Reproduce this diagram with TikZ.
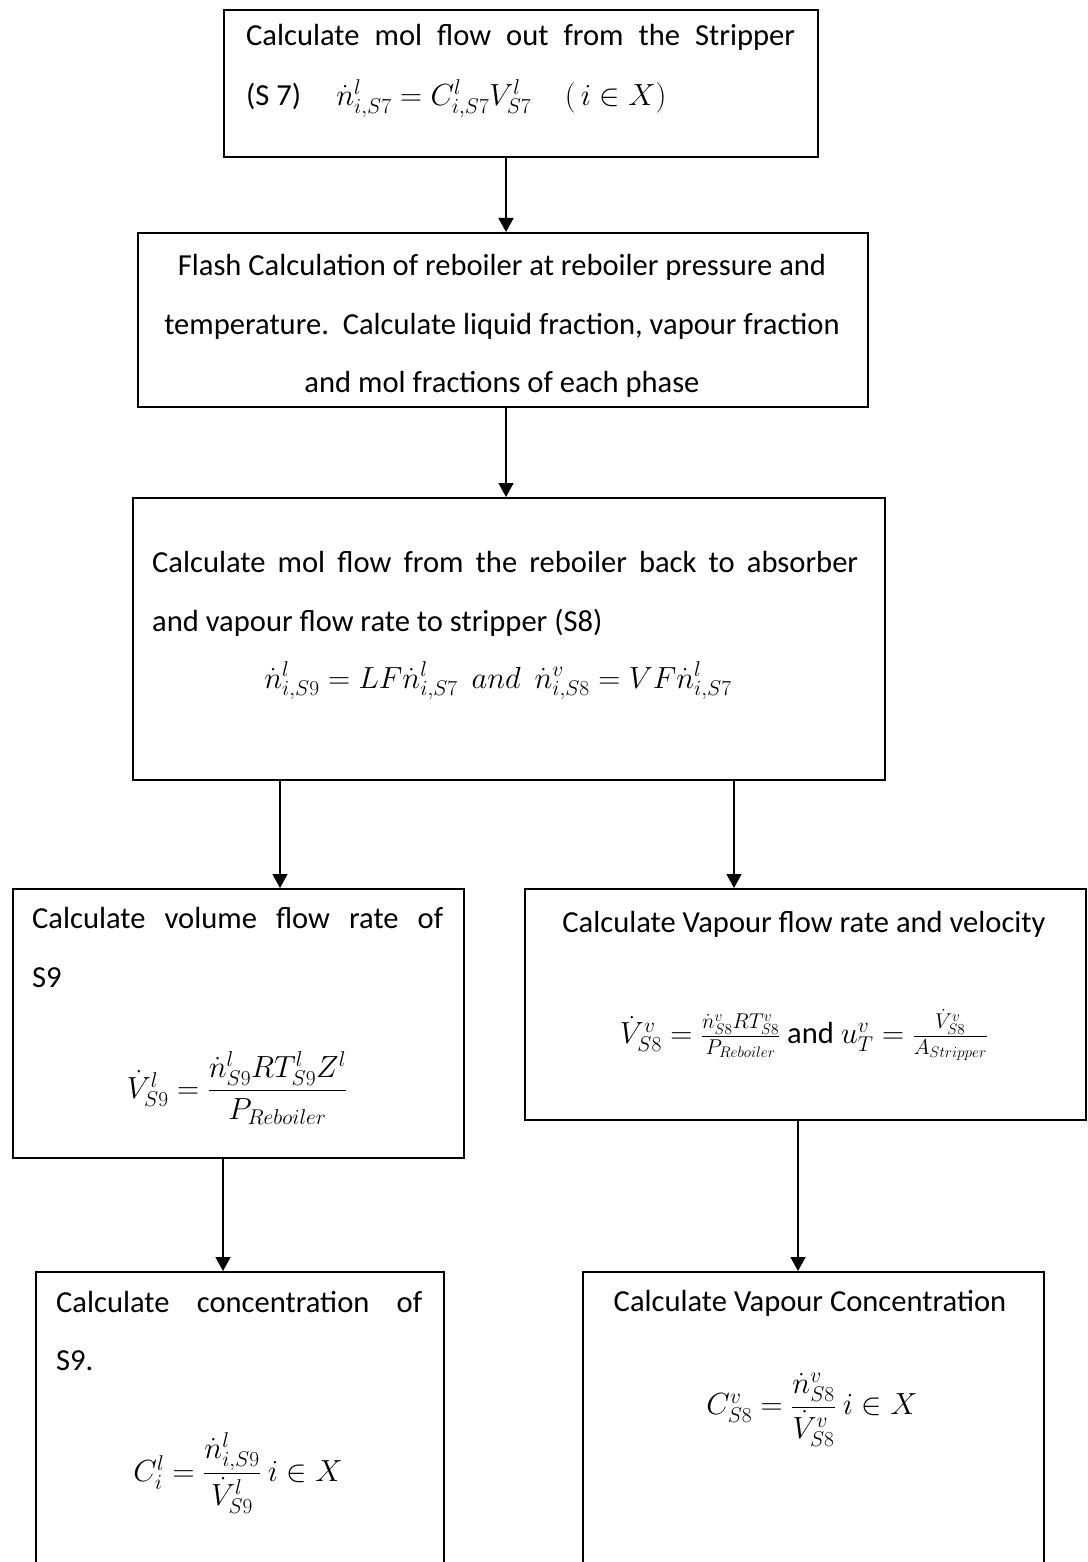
\RequirePackage{fix-cm}
\documentclass[tikz,border=0pt]{standalone}
\usepackage{amsmath}
\usepackage{fontspec}
\setmainfont{Carlito}
\usetikzlibrary{arrows.meta}
\begin{document}
\fontsize{30.56}{36}\selectfont
\begin{tikzpicture}[x=1pt,y=-1pt,
  box/.style={draw,line width=1.8pt,inner sep=0pt,anchor=north west},
  arr/.style={line width=1.6pt,-{Triangle[length=14pt,width=15pt]}},
  lt/.style={inner sep=0pt,anchor=base west},
  ct/.style={inner sep=0pt,anchor=base}]
\useasboundingbox (0,0) rectangle (1087,1562);
\clip (0,0) rectangle (1087,1562);
% boxes
\node[box,minimum width=594pt,minimum height=147pt] (b1) at (223,9) {};
\node[box,minimum width=730pt,minimum height=174pt] (b2) at (137,232) {};
\node[box,minimum width=752pt,minimum height=282pt] (b3) at (132,497) {};
\node[box,minimum width=451pt,minimum height=269pt] (b4) at (12,888) {};
\node[box,minimum width=561pt,minimum height=231pt] (b5) at (524,888) {};
\node[box,minimum width=408pt,minimum height=310pt] (b6) at (35,1271) {};
\node[box,minimum width=461pt,minimum height=310pt] (b7) at (582,1271) {};
% connectors
\coordinate (x1) at (506,0);
\coordinate (x3) at (280,0);
\coordinate (x4) at (734,0);
\coordinate (x5) at (223,0);
\coordinate (x6) at (798,0);
\draw[arr] (x1 |- b1.south) -- (x1 |- b2.north);
\draw[arr] (x1 |- b2.south) -- (x1 |- b3.north);
\draw[arr] (x3 |- b3.south) -- (x3 |- b4.north);
\draw[arr] (x4 |- b3.south) -- (x4 |- b5.north);
\draw[arr] (x5 |- b4.south) -- (x5 |- b6.north);
\draw[arr] (x6 |- b5.south) -- (x6 |- b7.north);
% box 1
\node[lt] (t1a) at (246,46) {\makebox[549pt][s]{Calculate mol flow out from the Stripper}};
\node[lt] (t1b) at (246,106) {(S 7)\hspace{1.15em}$\dot{n}^{l}_{i,S7} = C^{l}_{i,S7}V^{l}_{S7}\hspace{1.1em}(\,i\in X)$};
% box 2
\node[ct] (t2a) at (502,275) {Flash Calculation of reboiler at reboiler pressure and};
\node[ct] (t2b) at (502,334) {temperature.\ \ Calculate liquid fraction, vapour fraction};
\node[ct] (t2c) at (502,392) {and mol fractions of each phase};
% box 3
\node[lt] (t3a) at (152,572) {\makebox[706pt][s]{Calculate mol flow from the reboiler back to absorber}};
\node[lt] (t3b) at (152,631) {and vapour flow rate to stripper (S8)};
\node[ct] (t3c) at (498,688) {$\dot{n}^{l}_{i,S9} = LF\dot{n}^{l}_{i,S7}\ \ and\ \ \dot{n}^{v}_{i,S8} = VF\dot{n}^{l}_{i,S7}$};
% box 4
\node[lt] (t4a) at (32,928) {\makebox[411pt][s]{Calculate volume flow rate of}};
\node[lt] (t4b) at (32,987) {S9};
\node[inner sep=0pt] (t4c) at (237,1088) {$\dot{V}^{l}_{S9} = \dfrac{\dot{n}^{l}_{S9}RT^{l}_{S9}Z^{l}}{P_{Reboiler}}$};
% box 5
\node[ct] (t5a) at (804,932) {Calculate Vapour flow rate and velocity};
\node[inner sep=0pt] (t5b) at (804,1035) {$\dot{V}^{v}_{S8} = \tfrac{\dot{n}^{v}_{S8}RT^{v}_{S8}}{P_{Reboiler}}$ and $u^{v}_{T} = \tfrac{\dot{V}^{v}_{S8}}{A_{Stripper}}$};
% box 6
\node[lt] (t6a) at (56,1312) {\makebox[366pt][s]{Calculate concentration of}};
\node[lt] (t6b) at (56,1370) {S9.};
\node[inner sep=0pt] (t6c) at (238,1473) {$C^{l}_{i} = \dfrac{\dot{n}^{l}_{i,S9}}{\dot{V}^{l}_{S9}}\ i\in X$};
% box 7
\node[ct] (t7a) at (810,1311) {Calculate Vapour Concentration};
\node[inner sep=0pt] (t7b) at (812,1410) {$C^{v}_{S8} = \dfrac{\dot{n}^{v}_{S8}}{\dot{V}^{v}_{S8}}\ i\in X$};
\end{tikzpicture}
\end{document}
